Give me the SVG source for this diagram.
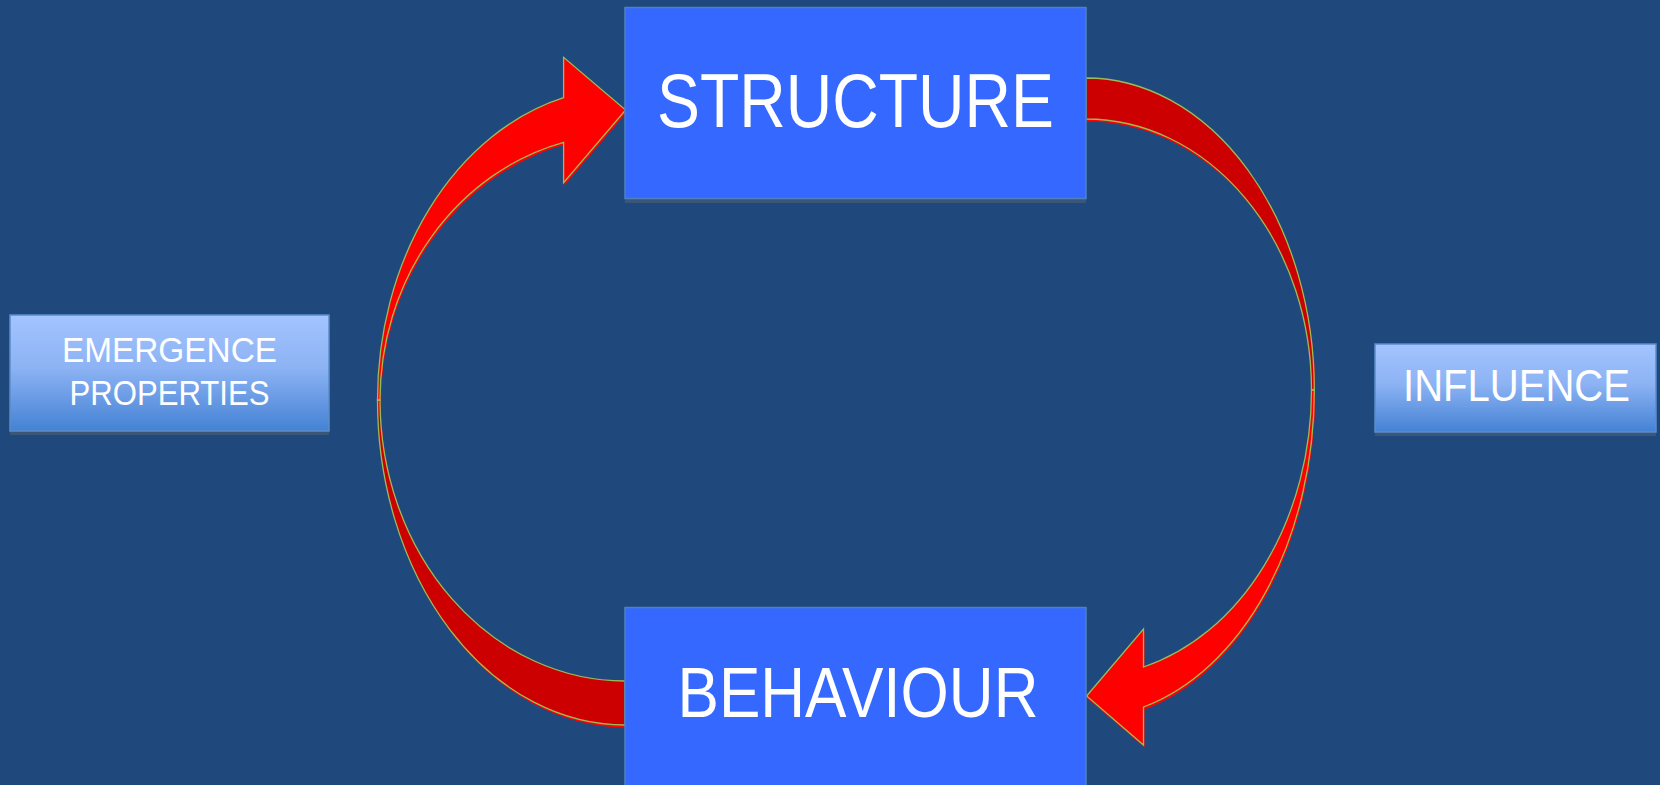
<svg xmlns="http://www.w3.org/2000/svg" width="1660" height="785" viewBox="0 0 1660 785">
<defs>
<linearGradient id="lg" x1="0" y1="0" x2="0" y2="1">
<stop offset="0" stop-color="#A3C4FF"/>
<stop offset="0.45" stop-color="#8DB3F4"/>
<stop offset="1" stop-color="#4482D4"/>
</linearGradient>
<style>
.big{fill:#3568FF;stroke:#4F81BD;stroke-width:1.5}
.small{fill:url(#lg);stroke:#5B8CCB;stroke-width:1.5}
.shd{fill:#3C5677}
.t{fill:#FFFFFF;font-family:"Liberation Sans","Open Sans",sans-serif;text-anchor:middle}
.front{fill:#FF0000;stroke:#9BBB59;stroke-width:1.3;stroke-linejoin:miter}
.back{fill:#CC0000;stroke:#9BBB59;stroke-width:1.3}
.ash{fill:#FF0000}
</style>
</defs>
<rect width="1660" height="785" fill="#1F497C"/>
<g id="connectors">
<g id="arrow-left">
<g transform="translate(1,2.5)" class="ash">
<path d="M 377.5 400 A 247.5 312 0 0 1 563.6 97.7 L 563.6 57.3 L 625.6 110 L 563.6 182.7 L 563.6 142.3 A 245 266.2 0 0 0 380 400 Z"/>
<path d="M 377.5 400 A 247.5 325 0 0 0 625 725 L 625 681 A 245 281 0 0 1 380 400 Z"/>
</g>
<path class="back" d="M 377.5 400 A 247.5 325 0 0 0 625 725 L 625 681 A 245 281 0 0 1 380 400 Z"/>
<path class="front" d="M 377.5 400 A 247.5 312 0 0 1 563.6 97.7 L 563.6 57.3 L 625.6 110 L 563.6 182.7 L 563.6 142.3 A 245 266.2 0 0 0 380 400 Z"/>
</g>
<g id="arrow-right">
<g transform="translate(1,2.5)" class="ash">
<path d="M 1086 78 A 228.3 312 0 0 1 1314.3 390 L 1311.5 390 A 225.5 271 0 0 0 1086 119 Z"/>
<path d="M 1314.3 390 A 228.3 327.5 0 0 1 1143.5 707 L 1143.5 745 L 1086.6 696 L 1143.5 629 L 1143.5 667 A 225.5 286.5 0 0 0 1311.5 390 Z"/>
</g>
<path class="back" d="M 1086 78 A 228.3 312 0 0 1 1314.3 390 L 1311.5 390 A 225.5 271 0 0 0 1086 119 Z"/>
<path class="front" d="M 1314.3 390 A 228.3 327.5 0 0 1 1143.5 707 L 1143.5 745 L 1086.6 696 L 1143.5 629 L 1143.5 667 A 225.5 286.5 0 0 0 1311.5 390 Z"/>
</g>
</g>
<g id="structure">
<rect class="shd" x="625" y="10" width="461" height="193"/>
<rect class="big" x="625" y="7.5" width="461" height="191"/>
<text class="t" x="855.5" y="127" font-size="76" textLength="397" lengthAdjust="spacingAndGlyphs">STRUCTURE</text>
</g>
<g id="behaviour">
<rect class="big" x="625" y="607.5" width="461" height="180"/>
<text class="t" x="858" y="717" font-size="70" textLength="361" lengthAdjust="spacingAndGlyphs">BEHAVIOUR</text>
</g>
<g id="emergence">
<rect class="shd" x="10" y="318" width="319" height="117"/>
<rect class="small" x="10" y="315" width="319" height="116"/>
<text class="t" x="169.5" y="361.5" font-size="35" textLength="215" lengthAdjust="spacingAndGlyphs">EMERGENCE</text>
<text class="t" x="169.5" y="405" font-size="35" textLength="200" lengthAdjust="spacingAndGlyphs">PROPERTIES</text>
</g>
<g id="influence">
<rect class="shd" x="1375" y="347" width="281" height="89"/>
<rect class="small" x="1375" y="344" width="281" height="88"/>
<text class="t" x="1516.5" y="401" font-size="44" textLength="227" lengthAdjust="spacingAndGlyphs">INFLUENCE</text>
</g>
</svg>
